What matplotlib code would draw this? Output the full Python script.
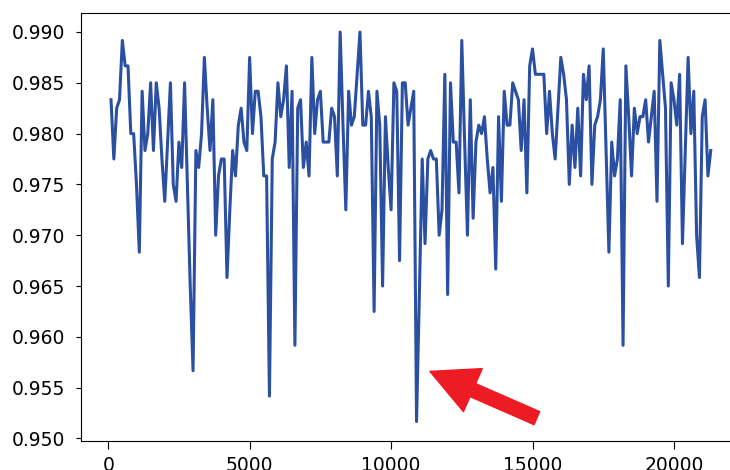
import numpy as np
import matplotlib
matplotlib.use('Agg')
import matplotlib.pyplot as plt

# correct predictions out of 1200 test samples, logged every 100 steps
n_test = 1200
step_size = 100
correct = [
    1180, 1173, 1179, 1180, 1187, 1184, 1184, 1176, 1176, 1170,
    1162, 1181, 1174, 1176, 1182, 1174, 1182, 1179, 1173, 1168,
    1175, 1182, 1170, 1168, 1175, 1172, 1182, 1170, 1158, 1148,
    1174, 1172, 1176, 1185, 1179, 1174, 1180, 1164, 1171, 1173,
    1173, 1159,
    1167, 1174, 1171, 1177, 1179, 1175, 1174, 1185, 1176, 1181,
    1181, 1178, 1171, 1171, 1145, 1173, 1175, 1182, 1178, 1180,
    1184, 1172, 1181, 1151, 1179, 1180, 1172, 1175, 1171, 1185,
    1176, 1180, 1181, 1175, 1175, 1175, 1179, 1178, 1171, 1188,
    1177, 1167, 1181,
    1177, 1178, 1183, 1188, 1177, 1177, 1181, 1178, 1155, 1181,
    1177, 1158, 1178, 1172, 1167, 1182, 1181, 1161, 1182, 1182,
    1177, 1179, 1181, 1142, 1157, 1173, 1163, 1173, 1174, 1173,
    1173, 1164, 1167, 1183, 1157, 1182, 1175, 1175, 1169, 1187,
    1175, 1164, 1180, 1166, 1175, 1177, 1176, 1178, 1173, 1169,
    1172, 1160, 1178, 1168, 1181, 1177, 1177, 1182, 1181, 1180,
    1174, 1180, 1169, 1184, 1186, 1183,
    1183, 1183, 1183, 1176, 1181, 1176, 1173, 1179, 1185, 1183,
    1180, 1170, 1177, 1172, 1179, 1171, 1183, 1180, 1184, 1170,
    1177, 1178, 1180, 1186, 1174, 1162, 1175, 1171, 1173, 1180,
    1151, 1184, 1178, 1171, 1179, 1176, 1178, 1178, 1180, 1175,
    1178, 1181, 1168, 1187, 1183, 1179, 1158, 1182, 1180, 1177,
    1183, 1163, 1174, 1185, 1176, 1181, 1164, 1159, 1178, 1180,
    1171, 1174,
]

acc = np.array(correct) / n_test
steps = np.arange(1, len(acc) + 1) * step_size

# arrow pointing at the dip
arrow_tip = (11374, 0.9566)
arrow_tail = (15155, 0.9520)

fig = plt.figure(figsize=(7.3, 4.7), dpi=100)
ax = fig.add_axes([0.111, 0.0617, 0.9037, 0.9117])

ax.plot(steps, acc, color='#2b50a1', linewidth=2.2)

ax.annotate('', xy=arrow_tip, xytext=arrow_tail,
            arrowprops=dict(arrowstyle='simple, head_length=3.37, head_width=3.38, tail_width=1.02',
                            color='#ed1c24', mutation_scale=10,
                            shrinkA=0, shrinkB=0))

ax.tick_params(axis='both', labelsize=13.5)
ax.tick_params(axis='y', pad=8)
ax.tick_params(axis='x', length=6, pad=5)

fig.savefig('out.png', dpi=100)
